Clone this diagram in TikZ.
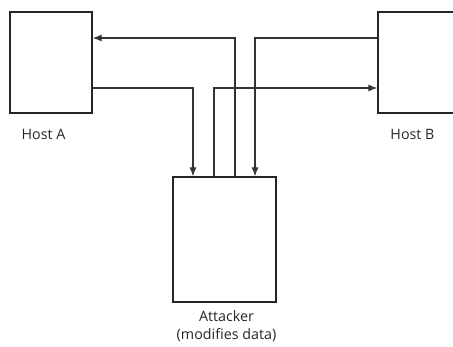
\documentclass[tikz,border=0pt]{standalone}
\usepackage{fontspec}
\setmainfont{Open Sans}
\usetikzlibrary{arrows.meta}
\begin{document}
\begin{tikzpicture}[x=1pt,y=-1pt,
  box/.style={draw=black!85,line width=1.3pt,fill=white,inner sep=0pt},
  conn/.style={draw=black!80,line width=1.2pt},
  arr/.style={conn,-{Latex[length=9pt,width=7pt]}},
  lbl/.style={font=\fontsize{14.3}{17}\selectfont,text=black!85,inner sep=0pt}]
\useasboundingbox (0,0) rectangle (453,347);
\clip (0,0) rectangle (453,347);
\node[box,minimum width=82pt,minimum height=101pt] (hostA) at (51,62.5) {};
\node[box,minimum width=90pt,minimum height=101pt] (hostB) at (423,62.5) {};
\node[box,minimum width=103pt,minimum height=125pt] (att) at (224.5,239.5) {};
\node[lbl] (la) at (43.5,134) {Host A};
\node[lbl] (lb) at (412.5,134) {Host B};
\node[lbl,align=center,font=\fontsize{14.3}{17.5}\selectfont] (lt) at (226.5,326) {Attacker\\(modifies data)};
% named routing coordinates
\coordinate (ylo) at (0,88);
\coordinate (yhi) at (0,38);
\coordinate (x1) at (193,0);
\coordinate (x2) at (214,0);
\coordinate (x3) at (235,0);
\coordinate (x4) at (255,0);
% Host A -> Attacker
\draw[arr] (hostA.east |- ylo) -| (att.north -| x1);
% Attacker -> Host B
\draw[arr] (att.north -| x2) |- (hostB.west |- ylo);
% Attacker -> Host A
\draw[arr] (att.north -| x3) |- (hostA.east |- yhi);
% Host B -> Attacker
\draw[arr] (hostB.west |- yhi) -| (att.north -| x4);
\end{tikzpicture}
\end{document}
